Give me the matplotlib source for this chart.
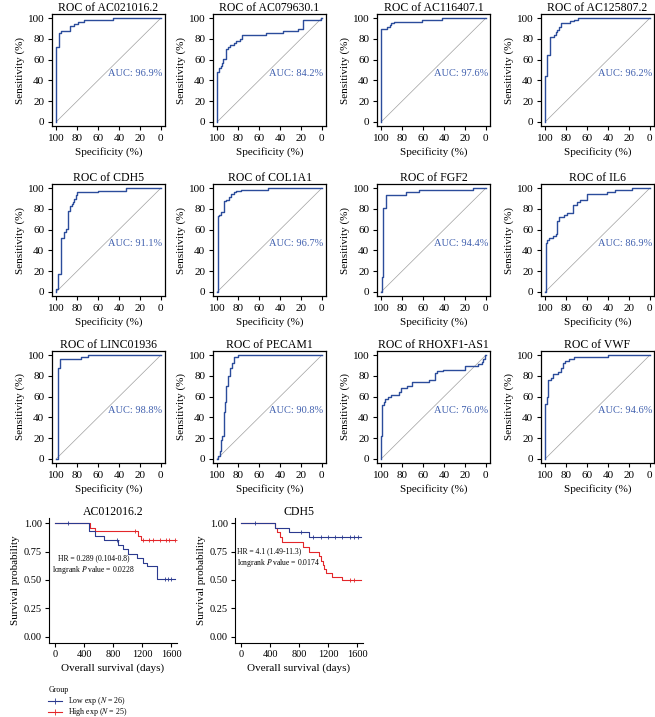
import matplotlib
matplotlib.use('Agg')
import matplotlib.pyplot as plt
from matplotlib.lines import Line2D
import numpy as np

plt.rcParams['font.family'] = ['Liberation Serif', 'DejaVu Serif']
plt.rcParams['mathtext.fontset'] = 'stix'

# ---- ROC data: (specificity, sensitivity) after each vertical jump ----
roc_names = ['AC021016.2', 'AC079630.1', 'AC116407.1', 'AC125807.2',
             'CDH5', 'COL1A1', 'FGF2', 'IL6',
             'LINC01936', 'PECAM1', 'RHOXF1-AS1', 'VWF']
roc_auc = ['96.9%', '84.2%', '97.6%', '96.2%',
           '91.1%', '96.7%', '94.4%', '86.9%',
           '98.8%', '90.8%', '76.0%', '94.6%']

spec_ac021016 = [100, 100, 97.5, 95.5, 87, 83, 79, 73, 46, 0]
sens_ac021016 = [0, 72, 86, 88, 92, 94, 96, 98, 100, 100]

spec_ac079630 = [100, 100, 98.4, 96.8, 95.3, 94.3, 92, 90, 88, 84, 82, 78, 76, 53, 37, 23, 18, 1, 0]
sens_ac079630 = [0, 48, 52, 54, 57, 61, 70, 72, 74, 76, 78, 80, 84, 86, 88, 90, 98, 100, 100]

spec_ac116407 = [100, 100, 94.4, 92, 90.6, 87.5, 61, 42, 0]
sens_ac116407 = [0, 90, 91, 93, 95, 96, 98, 100, 100]

spec_ac125807 = [100, 100, 98, 95.4, 92, 90, 89, 86.5, 85, 76.5, 72, 69, 0]
sens_ac125807 = [0, 44, 64, 82, 84, 87, 89, 91, 95, 97, 98, 100, 100]

spec_cdh5 = [100, 100, 98, 95.5, 93, 91, 89, 87, 85.3, 83.8, 82.6, 81, 80, 60, 33, 0]
sens_cdh5 = [0, 3, 17, 52, 58, 61, 78, 83, 85, 87, 90, 93, 96, 97, 100, 100]

spec_col1a1 = [100, 99.4, 97.8, 96, 93.7, 92, 88.3, 86.4, 84, 82, 77, 51, 0]
sens_col1a1 = [0, 73, 74, 77, 88, 89, 91, 94, 96, 97, 98, 100, 100]

spec_fgf2 = [100, 99, 98, 95.5, 76, 64, 12.5, 0]
sens_fgf2 = [0, 14, 81, 93, 96, 98, 100, 100]

spec_il6 = [100, 99.4, 98, 96.3, 93, 90, 88.7, 86.5, 81.7, 79.5, 73, 70, 67, 59.6, 41, 33.6, 17, 0]
sens_il6 = [0, 47, 50, 52, 54, 56, 68, 72, 74, 76, 84, 87, 89, 94, 96, 98, 100, 100]

spec_linc01936 = [100, 98.5, 96.3, 76, 69.4, 0]
sens_linc01936 = [0, 88, 96, 98, 100, 100]

spec_pecam1 = [100, 99, 97, 96, 95, 93.5, 92.5, 91.5, 90, 88, 86, 84, 80, 0]
sens_pecam1 = [0, 3, 8, 18, 22, 45, 55, 70, 80, 88, 92, 98, 100, 100]

spec_rhoxf1 = [100, 100, 99, 97.5, 96, 93.8, 90.6, 82.8, 81, 75, 71, 54.7, 49, 47, 40.6, 20.3, 7.8, 3.75, 2.5, 0.6, 0]
sens_rhoxf1 = [0, 22, 52, 55, 58, 60, 62, 64, 68, 70, 74, 76, 83, 85, 86, 90, 91, 93, 96, 100, 100]

spec_vwf = [100, 100, 98.5, 97, 94.8, 93, 87.8, 84.7, 82.6, 80.7, 77, 72.5, 40.4, 0]
sens_vwf = [0, 53, 60, 76, 78, 82, 84, 88, 92, 94, 96, 98, 100, 100]

roc_spec = [spec_ac021016, spec_ac079630, spec_ac116407, spec_ac125807,
            spec_cdh5, spec_col1a1, spec_fgf2, spec_il6,
            spec_linc01936, spec_pecam1, spec_rhoxf1, spec_vwf]
roc_sens = [sens_ac021016, sens_ac079630, sens_ac116407, sens_ac125807,
            sens_cdh5, sens_col1a1, sens_fgf2, sens_il6,
            sens_linc01936, sens_pecam1, sens_rhoxf1, sens_vwf]

# ---- Kaplan-Meier data ----
km_titles = ['AC012016.2', 'CDH5']
km_low_t = [[0, 470, 545, 670, 875, 940, 1010, 1125, 1218, 1265, 1402, 1650],
            [0, 470, 660, 940, 1650]]
km_low_s = [[1.0, 0.93, 0.89, 0.85, 0.81, 0.77, 0.73, 0.69, 0.65, 0.62, 0.51, 0.51],
            [1.0, 0.96, 0.92, 0.875, 0.875]]
km_low_cens_t = [[180, 860, 1520, 1560, 1600],
                 [190, 830, 1000, 1100, 1200, 1300, 1400, 1500, 1560, 1620]]
km_high_t = [[0, 480, 550, 1140, 1180, 1650],
             [0, 470, 500, 540, 560, 850, 940, 1080, 1110, 1130, 1150, 1170, 1250, 1400, 1650]]
km_high_s = [[1.0, 0.96, 0.93, 0.89, 0.85, 0.85],
             [1.0, 0.96, 0.92, 0.875, 0.83, 0.79, 0.75, 0.71, 0.67, 0.63, 0.60, 0.56, 0.53, 0.50, 0.50]]
km_high_cens_t = [[1100, 1220, 1290, 1350, 1450, 1530, 1570, 1650],
                  [1500, 1560]]
km_text = [['HR = 0.289 (0.104-0.8)', r'longrank $\it{P}$ value = 0.0228'],
           ['HR = 4.1 (1.49-11.3)', r'longrank $\it{P}$ value = 0.0174']]
group_labels = [r'Low exp ($\it{N}$ = 26)', r'High exp ($\it{N}$ = 25)']

W, H = 655, 717
fig = plt.figure(figsize=(W / 100, H / 100), dpi=100)

def px_axes(x0, y0, w, h):
    return fig.add_axes([x0 / W, 1 - (y0 + h) / H, w / W, h / H])

def surv_at(times, surv, pts):
    # value of the step curve at each censor time
    return [surv[np.searchsorted(times, t, side='right') - 1] for t in pts]

roc_col = '#2b4c9b'
auc_col = '#3f5fae'
col_x = [52, 213, 377, 541]
row_y = [14, 184, 351]

for i, name in enumerate(roc_names):
    r, c = divmod(i, 4)
    ax = px_axes(col_x[c], row_y[r], 113, 112)
    ax.plot([100, 0], [0, 100], color='#a0a0a0', lw=0.5)
    ax.plot(roc_spec[i], roc_sens[i], drawstyle='steps-post', color=roc_col, lw=1.0)
    ax.set_xlim(104, -4)
    ax.set_ylim(-4, 104)
    ax.set_xticks([100, 80, 60, 40, 20, 0])
    ax.set_yticks([0, 20, 40, 60, 80, 100])
    ax.tick_params(labelsize=8, length=3, width=0.8, pad=2.5)
    for s in ax.spines.values():
        s.set_linewidth(0.9)
    ax.set_title('ROC of ' + name, fontsize=8.5, pad=2)
    ax.set_xlabel('Specificity (%)', fontsize=8, labelpad=3)
    ax.set_ylabel('Sensitivity (%)', fontsize=8, labelpad=2)
    ax.text(50, 51, 'AUC: ' + roc_auc[i], color=auc_col, fontsize=7.5,
            ha='left', va='top')

km_blue = '#2b3a8f'
km_red = '#e3262a'
km_x = [49, 235]
for k in range(2):
    ax = px_axes(km_x[k], 518, 128, 125)
    ax.step(km_high_t[k], km_high_s[k], where='post', color=km_red, lw=0.8)
    ax.step(km_low_t[k], km_low_s[k], where='post', color=km_blue, lw=0.8)
    ax.plot(km_high_cens_t[k], surv_at(km_high_t[k], km_high_s[k], km_high_cens_t[k]),
            '+', color=km_red, ms=3.5, mew=0.6)
    ax.plot(km_low_cens_t[k], surv_at(km_low_t[k], km_low_s[k], km_low_cens_t[k]),
            '+', color=km_blue, ms=3.5, mew=0.6)
    ax.set_xlim(-83, 1683)
    ax.set_ylim(-0.053, 1.044)
    ax.set_xticks([0, 400, 800, 1200, 1600])
    ax.set_yticks([0, 0.25, 0.5, 0.75, 1.0])
    ax.set_yticklabels(['0.00', '0.25', '0.50', '0.75', '1.00'])
    ax.spines['top'].set_visible(False)
    ax.spines['right'].set_visible(False)
    for s in ('left', 'bottom'):
        ax.spines[s].set_linewidth(0.8)
    ax.tick_params(labelsize=7.5, length=3, width=0.8, pad=2)
    ax.set_title(km_titles[k], fontsize=8.5, pad=2)
    ax.set_xlabel('Overall survival (days)', fontsize=8, labelpad=3)
    ax.set_ylabel('Survival probability', fontsize=8, labelpad=3)
    if k == 0:
        ax.text(530, 0.63, km_text[k][0] + '\n' + km_text[k][1], fontsize=5.5,
                ha='center', va='center', multialignment='center', linespacing=1.2)
    else:
        ax.text(-55, 0.69, km_text[k][0] + '\n' + km_text[k][1], fontsize=5.5,
                ha='left', va='center', multialignment='left', linespacing=1.2)

# group legend drawn by hand below the survival panels
fig.text(49 / W, 1 - 690 / H, 'Group', fontsize=5.7, ha='left', va='center')
for j, (lab, colr) in enumerate(zip(group_labels, [km_blue, km_red])):
    yy = 1 - (701 + 11 * j) / H
    fig.add_artist(Line2D([48 / W, 62 / W], [yy, yy], color=colr, lw=0.8,
                          transform=fig.transFigure))
    fig.add_artist(Line2D([55 / W], [yy], color=colr, marker='+', ms=4, mew=0.6,
                          transform=fig.transFigure))
    fig.text(68 / W, yy, lab, fontsize=5.7, ha='left', va='center')

fig.savefig('out.png', dpi=100)
